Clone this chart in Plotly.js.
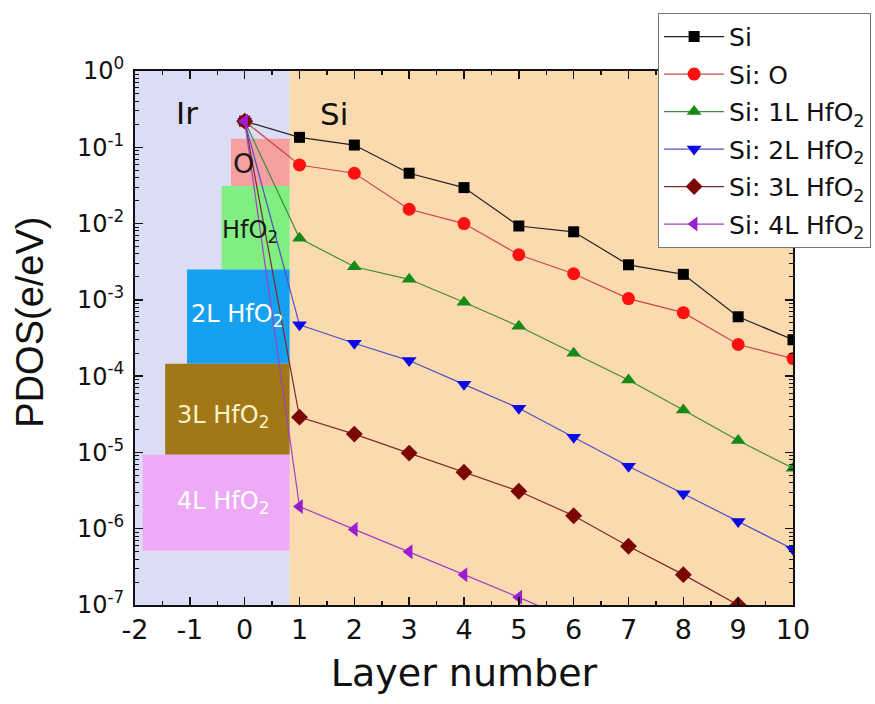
<!DOCTYPE html>
<html>
<head>
<meta charset="utf-8">
<script src="https://cdn.plot.ly/plotly-3.0.1.min.js"></script>
<style>html,body{margin:0;padding:0;background:#fff;}#chart{width:875px;height:704px;}</style>
</head>
<body>
<div id="chart"></div>
<script>
// ---- data ----
const layers = [0, 1, 2, 3, 4, 5, 6, 7, 8, 9, 10];
const seriesNames = ['Si', 'Si: O', 'Si: 1L HfO<sub>2</sub>', 'Si: 2L HfO<sub>2</sub>', 'Si: 3L HfO<sub>2</sub>', 'Si: 4L HfO<sub>2</sub>'];
const pdosSi      = [0.22, 0.135, 0.107, 0.0457, 0.0296, 0.0093, 0.0078, 0.00288, 0.00216, 6.0e-4, 3.0e-4];
const pdosSiO     = [0.22, 0.0586, 0.0457, 0.0154, 0.0100, 0.0039, 0.0022, 0.00104, 6.8e-4, 2.6e-4, 1.7e-4];
const pdosSi1L    = [0.22, 0.0064, 0.00272, 0.00186, 9.3e-4, 4.5e-4, 2.0e-4, 8.9e-5, 3.6e-5, 1.43e-5, 6.2e-6];
const pdosSi2L    = [0.22, 4.7e-4, 2.7e-4, 1.6e-4, 7.8e-5, 3.8e-5, 1.58e-5, 6.6e-6, 2.87e-6, 1.24e-6, 5.4e-7];
const pdosSi3L    = [0.22, 2.9e-5, 1.74e-5, 9.8e-6, 5.5e-6, 3.1e-6, 1.48e-6, 5.9e-7, 2.5e-7, 1.0e-7, 4.2e-8];
const pdosSi4L    = [0.22, 1.95e-6, 9.8e-7, 5.0e-7, 2.5e-7, 1.26e-7, 6.2e-8, 3.0e-8, 1.5e-8, 7.5e-9, 3.7e-9];

// region boundary between Ir and Si (layer number)
const regionNames = ['Ir', 'Si'];
const regionX = [-2, 0.82, 10];

// stacked interface blocks: label, left edge, bottom, top (right edge = interface)
const boxLabels = ['O', 'HfO<sub>2</sub>', '2L HfO<sub>2</sub>', '3L HfO<sub>2</sub>', '4L HfO<sub>2</sub>'];
const boxX0     = [-0.25, -0.42, -1.05, -1.45, -1.86];
const boxYBot   = [0.031, 0.0025, 1.45e-4, 9.3e-6, 5.2e-7];
const boxYTop   = [0.129, 0.031, 0.0025, 1.45e-4, 9.3e-6];

const yTickVals = [1e-7, 1e-6, 1e-5, 1e-4, 1e-3, 1e-2, 1e-1, 1];
const yTickText = ['10<sup>-7</sup>', '10<sup>-6</sup>', '10<sup>-5</sup>', '10<sup>-4</sup>', '10<sup>-3</sup>', '10<sup>-2</sup>', '10<sup>-1</sup>', '10<sup>0</sup>'];
const xTickVals = [-2, -1, 0, 1, 2, 3, 4, 5, 6, 7, 8, 9, 10];
const xTickText = ['-2', '-1', '0', '1', '2', '3', '4', '5', '6', '7', '8', '9', '10'];
const xTitle = 'Layer number';
const yTitle = 'PDOS(e/eV)';

// ---- styles ----
const allY = [pdosSi, pdosSiO, pdosSi1L, pdosSi2L, pdosSi3L, pdosSi4L];
const markerColors = ['#000000', '#ff1010', '#168a16', '#0a0ae6', '#7a0606', '#9a1ed0'];
const lineColors   = ['#222222', '#c84848', '#3e8a3e', '#5050c0', '#7a2a2a', '#a040c8'];
const symbols = ['square', 'circle', 'triangle-up', 'triangle-down', 'diamond', 'triangle-left'];
const sizes = [11, 13, 13, 13, 13, 13];

const traces = allY.map((ys, i) => ({
  x: layers, y: ys, name: seriesNames[i], type: 'scatter', mode: 'lines+markers',
  legendgroup: 'g' + i,
  line: {color: lineColors[i], width: 1.2},
  marker: {symbol: symbols[i], color: markerColors[i], size: sizes[i], line: {width: 0}},
  cliponaxis: true
}));

const shapes = [
  {type: 'rect', layer: 'below', xref: 'x', yref: 'paper', x0: regionX[0], x1: regionX[1], y0: 0, y1: 1, fillcolor: '#dcdcf4', line: {width: 0}},
  {type: 'rect', layer: 'below', xref: 'x', yref: 'paper', x0: regionX[1], x1: regionX[2], y0: 0, y1: 1, fillcolor: '#fcdab0', line: {width: 0}}
];
const boxColors = ['#f4a0a0', '#80ee80', '#16a0f0', '#a07818', '#eeaaf6'];
boxLabels.forEach((b, i) => {
  shapes.push({type: 'rect', layer: 'below', xref: 'x', yref: 'y', x0: boxX0[i], x1: regionX[1], y0: boxYBot[i], y1: boxYTop[i], fillcolor: boxColors[i], line: {width: 0}});
});

const F = 'DejaVu Sans, sans-serif';
const FL = 'Liberation Sans, Arial, sans-serif';
const boxTextPos = [[-0.03, -1.21], [0.10, -2.11], [-0.14, -3.2], [-0.39, -4.53], [-0.39, -5.66]];
const boxTextColors = ['#1a1a1a', '#1a1a1a', '#ffffff', '#fbf2c8', '#ffffff'];
const boxTextSizes = [27, 24, 24, 24, 24];
const annotations = [
  {x: -1.05, y: -0.55, text: regionNames[0], showarrow: false, font: {family: F, size: 31, color: '#111'}},
  {x: 1.62, y: -0.56, text: regionNames[1], showarrow: false, font: {family: F, size: 31, color: '#111'}},
  {xref: 'paper', yref: 'paper', x: -0.16, y: 0.53, xanchor: 'center', yanchor: 'middle',
   text: yTitle, textangle: -90, showarrow: false,
   font: {family: FL, size: 38, color: '#111'}}
];
boxLabels.forEach((b, i) => {
  annotations.push({x: boxTextPos[i][0], y: boxTextPos[i][1], text: b, showarrow: false, font: {family: F, size: boxTextSizes[i], color: boxTextColors[i]}});
});

const layout = {
  width: 875, height: 704,
  margin: {l: 135, r: 82, t: 71, b: 99, autoexpand: false},
  paper_bgcolor: '#ffffff', plot_bgcolor: 'rgba(0,0,0,0)',
  font: {family: F, color: '#111'},
  showlegend: true,
  legend: {
    x: 0.795, y: 1.109, xanchor: 'left', yanchor: 'top',
    bgcolor: '#ffffff', bordercolor: '#777', borderwidth: 1,
    font: {family: F, size: 25, color: '#111'},
    itemwidth: 60, tracegroupgap: 2
  },
  xaxis: {
    range: [-2, 10], tickmode: 'array', tickvals: xTickVals, ticktext: xTickText,
    ticks: 'inside', ticklen: 8, tickwidth: 1.5, tickcolor: '#111',
    mirror: 'allticks', showline: true, linecolor: '#111', linewidth: 2,
    showgrid: false, zeroline: false,
    tickfont: {family: F, size: 27, color: '#111'},
    minor: {dtick: 0.5, ticks: 'inside', ticklen: 4, tickwidth: 1.5, tickcolor: '#111', showgrid: false},
    title: {text: xTitle, font: {family: F, size: 38, color: '#111'}, standoff: 15}
  },
  yaxis: {
    type: 'log', range: [-7, 0], tickmode: 'array', tickvals: yTickVals, ticktext: yTickText,
    ticks: 'inside', ticklen: 8, tickwidth: 1.5, tickcolor: '#111',
    mirror: 'allticks', showline: true, linecolor: '#111', linewidth: 2,
    showgrid: false, zeroline: false, ticklabelstandoff: 4,
    tickfont: {family: F, size: 24, color: '#111'},
    minor: {dtick: 'D1', ticks: 'inside', ticklen: 4, tickwidth: 1, tickcolor: '#111', showgrid: false}
  },
  shapes: shapes,
  annotations: annotations
};

Plotly.newPlot('chart', traces, layout, {displayModeBar: false, staticPlot: true});
</script>
</body>
</html>
